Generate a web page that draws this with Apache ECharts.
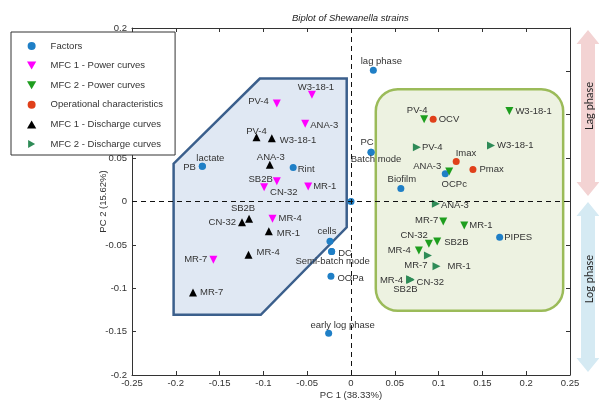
<!DOCTYPE html>
<html>
<head>
<meta charset="utf-8">
<script src="https://cdn.jsdelivr.net/npm/echarts@6.0.0/dist/echarts.min.js"></script>
<style>html,body{margin:0;padding:0;background:#fff}#c{width:599px;height:400px}</style>
</head>
<body>
<div id="c"></div>
<script>
// ---------- data ----------
const xTicks = [-0.25, 0.25, 0.05];   // min, max, step
const yTicks = [-0.2, 0.2, 0.05];

const factorNames = ['lag phase','PC','Batch mode','Biofilm','OCPc','PIPES','lactate','PB','Rint','','cells','DC','Semi-batch mode','OOPa','early log phase'];
const factorX = [0.0255, 0.0229, 0.0229, 0.0569, 0.1076, 0.1697, -0.1697, -0.1697, -0.066, 0, -0.024, -0.0221, -0.0221, -0.0229, -0.0255];
const factorY = [0.1514, 0.0569, 0.0569, 0.0150, 0.0319, -0.0412, 0.0407, 0.0407, 0.0392, 0, -0.0458, -0.0577, -0.0577, -0.0862, -0.1519];

const mfc1PowerNames = ['W3-18-1','PV-4','ANA-3','SB2B','CN-32','MR-1','MR-4','MR-7'];
const mfc1PowerX = [-0.0446, -0.0847, -0.0523, -0.0847, -0.0992, -0.0489, -0.0896, -0.1571];
const mfc1PowerY = [0.1231, 0.1130, 0.0896, 0.0234, 0.0165, 0.0173, -0.0200, -0.0672];

const mfc2PowerNames = ['PV-4','W3-18-1','ANA-3','MR-7','MR-1','CN-32','SB2B','MR-4'];
const mfc2PowerX = [0.0835, 0.1808, 0.1121, 0.1053, 0.1293, 0.0889, 0.0984, 0.0775];
const mfc2PowerY = [0.0949, 0.1042, 0.0346, -0.0231, -0.0277, -0.0488, -0.0461, -0.0565];

const opNames = ['OCV','Imax','Pmax'];
const opX = [0.0938, 0.1201, 0.1392];
const opY = [0.0949, 0.0461, 0.0369];

const mfc1DischNames = ['PV-4','W3-18-1','ANA-3','SB2B','CN-32','MR-1','MR-4','MR-7'];
const mfc1DischX = [-0.1079, -0.0904, -0.0927, -0.1164, -0.1244, -0.0938, -0.1170, -0.1804];
const mfc1DischY = [0.0742, 0.0730, 0.0423, -0.0200, -0.0239, -0.0343, -0.0615, -0.1050];

const mfc2DischNames = ['PV-4','W3-18-1','ANA-3','MR-7','MR-1','MR-4','CN-32','SB2B'];
const mfc2DischX = [0.0752, 0.1598, 0.0969, 0.0878, 0.0976, 0.0675, 0.0680, 0.0678];
const mfc2DischY = [0.0626, 0.0646, -0.0027, -0.0623, -0.0746, -0.0896, -0.0900, -0.0905];

// highlighted regions (data space)
const mfc1RegionX = [-0.1041, -0.0049, -0.0049, -0.1030, -0.2025, -0.2025];
const mfc1RegionY = [0.1418, 0.1418, -0.0297, -0.1306, -0.1306, 0.0436];
const mfc2RegionX = [0.0283, 0.2422];
const mfc2RegionY = [0.1295, -0.1260];

const seriesNames = ['Factors','MFC 1 - Power curves','MFC 2 - Power curves','Operational characteristics','MFC 1 - Discharge curves','MFC 2 - Discharge curves'];

// ---------- label placement (style) ----------
const factorLbl = [['top',[8,3]],['top',[-4,2]],['bottom',[5,-4]],['top',[1,2]],['bottom',[9,-1]],['right',[-2,0]],['top',[8,4]],['left',[0,1]],['right',[-2,2]],null,['top',[-3,2]],['right',[0,2]],['bottom',[1,-2]],['right',[0,2]],['top',[14,4]]];
const mfc1PowerLbl = [['top',[4,5]],['left',[-1,-2]],['right',[-2,2]],['left',[3,-2]],['right',[-1,5]],['right',[-2,0]],['right',[-1,0]],['left',[1,0]]];
const mfc2PowerLbl = [['top',[-7,3]],['right',[-1,0]],['left',[-1,-5]],['left',[2,-1]],['right',[-2,0]],['left',[6,-8]],['right',[0,1]],['left',[-1,0]]];
const opLbl = [['right',[-1,0]],['right',[-7,-8]],['right',[0,0]]];
const mfc1DischLbl = [['top',[0,6]],['right',[1,2]],['top',[1,5]],['top',[-6,2]],['left',[1,0]],['right',[1,2]],['right',[1,-2]],['right',[0,0]]];
const mfc2DischLbl = [['right',[-2,0]],['right',[-1,0]],['right',[-2,2]],['bottom',[-12,-2]],['right',[4,0]],['left',[0,1]],['right',[-1,3]],['bottom',[-5,-3]]];

const FONT = '"Liberation Sans", Arial, sans-serif';
const FS = 9.5;

function build(names, xs, ys, lbl) {
  return names.map((n, i) => {
    const item = { name: n, value: [xs[i], ys[i]] };
    if (lbl[i]) item.label = { position: lbl[i][0], offset: lbl[i][1] };
    else item.label = { show: false };
    return item;
  });
}

function scatter(name, data, symbol, color, size) {
  return {
    name, type: 'scatter', data, symbol, symbolSize: size,
    itemStyle: { color, opacity: 1 }, z: 3,
    label: { show: true, formatter: '{b}', distance: 3, fontSize: FS, color: '#333', fontFamily: FONT },
    emphasis: { disabled: true }
  };
}

const DOWN = 'path://M0,0L10,0L5,8.66Z';
const UP = 'path://M5,0L10,8.66L0,8.66Z';
const RIGHT = 'path://M0,0L8.66,5L0,10Z';

const chart = echarts.init(document.getElementById('c'), null, { renderer: 'canvas' });

const axisCommon = {
  type: 'value',
  axisLine: { show: true, onZero: false, lineStyle: { color: '#333', width: 1 } },
  axisTick: { show: true, inside: true, length: 4, lineStyle: { color: '#333' } },
  splitLine: { show: false },
  axisLabel: { fontSize: FS, color: '#333', fontFamily: FONT }
};

const option = {
  animation: false,
  backgroundColor: '#fff',
  title: {
    text: 'Biplot of Shewanella strains',
    left: 292, top: 13, padding: 0,
    textStyle: { fontSize: FS, fontStyle: 'italic', fontWeight: 'normal', color: '#222', fontFamily: FONT }
  },
  grid: { left: 132, right: 29, top: 28, bottom: 25, containLabel: false, outerBoundsMode: 'none' },
  xAxis: [
    Object.assign({}, axisCommon, {
      position: 'bottom', min: xTicks[0], max: xTicks[1], interval: xTicks[2],
      name: 'PC 1 (38.33%)', nameLocation: 'middle', nameGap: 15, nameMoveOverlap: false,
      nameTextStyle: { fontSize: FS, color: '#333', fontFamily: FONT },
      axisLabel: Object.assign({}, axisCommon.axisLabel, { margin: 3 })
    }),
    Object.assign({}, axisCommon, {
      position: 'top', min: xTicks[0], max: xTicks[1], interval: xTicks[2],
      axisLabel: { show: false }
    })
  ],
  yAxis: [
    Object.assign({}, axisCommon, {
      position: 'left', min: yTicks[0], max: yTicks[1], interval: yTicks[2],
      name: 'PC 2 (15.62%)', nameLocation: 'middle', nameGap: 24, nameMoveOverlap: false,
      nameTextStyle: { fontSize: FS, color: '#333', fontFamily: FONT },
      axisLabel: Object.assign({}, axisCommon.axisLabel, { margin: 5 })
    }),
    Object.assign({}, axisCommon, {
      position: 'right', min: yTicks[0], max: yTicks[1], interval: yTicks[2],
      axisLabel: { show: false }
    })
  ],
  legend: {
    orient: 'vertical', left: 11, top: 32,
    data: seriesNames,
    itemWidth: 28, itemHeight: 8, itemGap: 7.6,
    padding: [8, 12, 5, 16],
    borderColor: '#333', borderWidth: 1, borderRadius: 0, backgroundColor: '#fff',
    textStyle: { fontSize: FS, color: '#333', fontFamily: FONT, lineHeight: 12 },
    selectedMode: false, z: 10
  },
  graphic: [
    { type: 'polygon', z: 0, silent: true,
      shape: { points: [[588,30],[599.5,44],[595,44],[595,182],[599.5,182],[588,196],[576.5,182],[581,182],[581,44],[576.5,44]] },
      style: { fill: '#f3d3d3' } },
    { type: 'polygon', z: 0, silent: true,
      shape: { points: [[588,202],[599.5,216],[595,216],[595,358],[599.5,358],[588,372],[576.5,358],[581,358],[581,216],[576.5,216]] },
      style: { fill: '#d5eaf3' } },
    { type: 'text', x: 589, y: 106, rotation: Math.PI / 2, z: 1, silent: true,
      style: { text: 'Lag phase', fontSize: 11, fontFamily: 'Lato, "Open Sans", sans-serif', fill: '#262626', align: 'center', verticalAlign: 'middle' } },
    { type: 'text', x: 589, y: 279, rotation: Math.PI / 2, z: 1, silent: true,
      style: { text: 'Log phase', fontSize: 11, fontFamily: 'Lato, "Open Sans", sans-serif', fill: '#262626', align: 'center', verticalAlign: 'middle' } }
  ],
  series: [
    {
      type: 'custom', name: 'mfc1Region', z: 1, silent: true, clip: false,
      data: [[0, 0]],
      renderItem: (params, api) => ({
        type: 'polygon',
        shape: { points: mfc1RegionX.map((x, i) => api.coord([x, mfc1RegionY[i]])) },
        style: { fill: '#e0e8f3', stroke: '#3b5f8c', lineWidth: 2.5, lineJoin: 'miter' }
      })
    },
    {
      type: 'custom', name: 'mfc2Region', z: 1, silent: true, clip: false,
      data: [[0, 0]],
      renderItem: (params, api) => {
        const p1 = api.coord([mfc2RegionX[0], mfc2RegionY[0]]);
        const p2 = api.coord([mfc2RegionX[1], mfc2RegionY[1]]);
        return {
          type: 'rect',
          shape: { x: p1[0], y: p1[1], width: p2[0] - p1[0], height: p2[1] - p1[1], r: 22 },
          style: { fill: '#edf2e1', stroke: '#9bbb59', lineWidth: 2.5 }
        };
      }
    },
    {
      type: 'scatter', name: 'axes0', data: [], z: 2, silent: true,
      markLine: {
        silent: true, symbol: ['none', 'none'], animation: false,
        label: { show: false },
        lineStyle: { color: '#111', type: [5, 4], width: 1 },
        emphasis: { disabled: true },
        data: [{ xAxis: 0 }, { yAxis: 0 }]
      }
    },
    scatter(seriesNames[0], build(factorNames, factorX, factorY, factorLbl), 'circle', '#1f7fc6', 7),
    scatter(seriesNames[1], build(mfc1PowerNames, mfc1PowerX, mfc1PowerY, mfc1PowerLbl), DOWN, '#ff00ff', 8),
    scatter(seriesNames[2], build(mfc2PowerNames, mfc2PowerX, mfc2PowerY, mfc2PowerLbl), DOWN, '#1e9e1e', 8),
    scatter(seriesNames[3], build(opNames, opX, opY, opLbl), 'circle', '#e0401a', 7),
    scatter(seriesNames[4], build(mfc1DischNames, mfc1DischX, mfc1DischY, mfc1DischLbl), UP, '#000000', 8),
    scatter(seriesNames[5], build(mfc2DischNames, mfc2DischX, mfc2DischY, mfc2DischLbl), RIGHT, '#2e8b57', 8)
  ]
};
chart.setOption(option);
</script>
</body>
</html>
